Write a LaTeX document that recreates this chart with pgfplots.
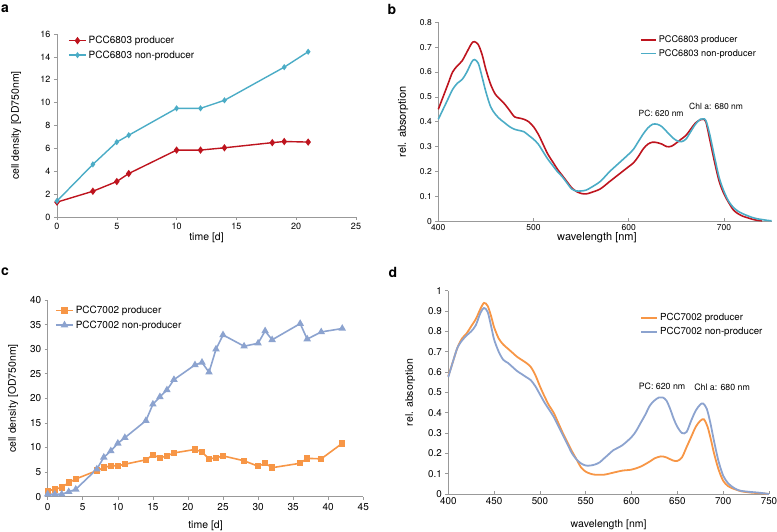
\documentclass[border=0pt]{standalone}
\usepackage{fontspec}
\setmainfont{TeX Gyre Heros}
\usepackage{pgfplots}
\pgfplotsset{compat=1.18}
\definecolor{cred}{RGB}{190,20,30}
\definecolor{ccyan}{RGB}{75,172,198}
\definecolor{corange}{RGB}{247,150,70}
\definecolor{cblue}{RGB}{140,163,207}
\pgfplotsset{myaxis/.style={
  scale only axis, axis lines=left,
  axis line style={-, draw=black!40, line width=0.8pt},
  tick style={draw=black!40, line width=0.6pt}, major tick length=3pt,
  tick align=outside,
  /pgf/number format/assume math mode=true,
  yticklabel style={/pgf/number format/fixed},
  legend cell align=left,
  legend style={draw=none, fill=none, inner sep=0pt, anchor=north west, row sep=1.5pt},
  clip=false,
}}
\begin{document}
\begin{tikzpicture}
\path[use as bounding box] (0pt,0pt) rectangle (777pt,532pt);
\node[font=\bfseries\fontsize{14}{14}\selectfont] at (5pt,523pt) {a};
\node[font=\bfseries\fontsize{14}{14}\selectfont] at (392pt,523pt) {b};
\node[font=\bfseries\fontsize{14}{14}\selectfont] at (5pt,260pt) {c};
\node[font=\bfseries\fontsize{14}{14}\selectfont] at (393pt,260pt) {d};

% ---------- panel a
\begin{axis}[myaxis, at={(57pt,315pt)}, anchor=south west, width=299pt, height=183pt,
  xmin=0, xmax=25, ymin=0, ymax=16, xtick distance=5, ytick distance=2,
  tick label style={font=\fontsize{9}{10}\selectfont},
  label style={font=\fontsize{10.5}{12}\selectfont},
  xlabel={time [d]}, ylabel={cell density [OD750nm]},
  xlabel style={at={(axis description cs:0.5,-0.115)}, anchor=center},
  ylabel style={at={(axis description cs:-0.137,0.5)}, anchor=center},
  legend style={at={(axis description cs:0.037,1.0)}, font=\fontsize{10}{11}\selectfont}]
\addplot[cred, line width=1.4pt, mark=diamond*, mark size=2.6pt] coordinates {
(0,1.3) (3,2.25) (5,3.1) (6,3.8) (10,5.85) (12,5.85) (14,6.05) (18,6.5) (19,6.6) (21,6.55)};
\addlegendentry{PCC6803 producer}
\addplot[ccyan, line width=1.4pt, mark=diamond*, mark size=2pt] coordinates {
(0,1.4) (3,4.6) (5,6.55) (6,7.15) (10,9.5) (12,9.5) (14,10.2) (19,13.1) (21,14.45)};
\addlegendentry{PCC6803 non-producer}
\end{axis}

% ---------- panel b
\begin{axis}[myaxis, at={(438.3pt,310.7pt)}, anchor=south west, width=333.3pt, height=199pt,
  xmin=400, xmax=750, ymin=0, ymax=0.8, xtick={400,500,600,700}, ytick distance=0.1,
  xtick align=inside,
  tick label style={font=\fontsize{8.5}{10}\selectfont},
  label style={font=\fontsize{11}{12}\selectfont},
  xlabel={wavelength [nm]}, ylabel={rel. absorption},
  xlabel style={at={(axis description cs:0.476,-0.084)}, anchor=center},
  ylabel style={at={(axis description cs:-0.106,0.5)}, anchor=center},
  legend image code/.code={\draw[#1, sharp plot] (0pt,0pt) -- (15pt,0pt);},
  legend style={at={(axis description cs:0.605,0.944)}, font=\fontsize{9.2}{10}\selectfont}]
\addplot[cred, line width=1.6pt, smooth] coordinates {
(400,0.45) (405,0.50) (410,0.55) (415,0.60) (420,0.625) (425,0.645) (430,0.68) (435,0.715)
(438,0.722) (442,0.71) (446,0.67) (450,0.61) (455,0.55) (460,0.51) (465,0.49) (470,0.47)
(475,0.445) (480,0.42) (485,0.415) (490,0.41) (495,0.40) (500,0.38) (505,0.35) (510,0.31)
(515,0.27) (520,0.24) (525,0.21) (530,0.185) (535,0.16) (540,0.135) (545,0.12) (550,0.112)
(555,0.11) (560,0.115) (570,0.13) (580,0.16) (590,0.19) (600,0.22) (605,0.235) (610,0.26)
(615,0.29) (620,0.31) (625,0.318) (630,0.316) (635,0.31) (640,0.30) (645,0.302) (650,0.315)
(655,0.33) (660,0.345) (665,0.37) (670,0.395) (675,0.408) (678,0.41) (681,0.40) (685,0.33)
(690,0.24) (695,0.16) (700,0.11) (705,0.075) (710,0.045) (715,0.03) (720,0.02) (725,0.014)
(730,0.008) (735,0.004) (740,0.002)};
\addlegendentry{PCC6803 producer}
\addplot[ccyan, line width=1.6pt, smooth] coordinates {
(400,0.41) (405,0.45) (410,0.49) (415,0.53) (420,0.555) (425,0.57) (430,0.60) (435,0.64)
(438,0.65) (442,0.635) (446,0.58) (450,0.52) (455,0.46) (460,0.43) (465,0.41) (470,0.395)
(475,0.38) (480,0.37) (485,0.365) (490,0.36) (495,0.345) (500,0.33) (505,0.31) (510,0.28)
(515,0.25) (520,0.225) (525,0.20) (530,0.18) (535,0.155) (540,0.13) (545,0.122) (550,0.122)
(555,0.125) (560,0.135) (570,0.16) (580,0.20) (590,0.235) (600,0.27) (605,0.29) (610,0.32)
(615,0.35) (620,0.375) (625,0.39) (630,0.39) (635,0.38) (640,0.36) (645,0.34) (650,0.325)
(655,0.32) (660,0.33) (665,0.36) (670,0.39) (675,0.41) (678,0.412) (681,0.405) (685,0.35)
(690,0.26) (695,0.175) (700,0.12) (705,0.08) (710,0.055) (715,0.04) (720,0.03) (725,0.022)
(730,0.015) (735,0.01) (740,0.007) (745,0.004) (750,0.002)};
\addlegendentry{PCC6803 non-producer}
\node[font=\fontsize{8.5}{10}\selectfont] at (axis cs:634,0.435) {PC: 620 nm};
\node[font=\fontsize{8.5}{10}\selectfont] at (axis cs:691.7,0.46) {Chl a: 680 nm};
\end{axis}

% ---------- panel c
\begin{axis}[myaxis, at={(47.7pt,35.3pt)}, anchor=south west, width=315.6pt, height=196.7pt,
  xmin=0, xmax=45, ymin=0, ymax=40, xtick distance=5, ytick distance=5,
  tick label style={font=\fontsize{10}{12}\selectfont},
  label style={font=\fontsize{10.5}{12}\selectfont},
  xlabel={time [d]}, ylabel={cell density [OD750nm]},
  xlabel style={at={(axis description cs:0.5,-0.147)}, anchor=center},
  ylabel style={at={(axis description cs:-0.11,0.5)}, anchor=center},
  legend style={at={(axis description cs:0.023,0.98)}, font=\fontsize{10}{11}\selectfont}]
\addplot[corange, line width=1.6pt, mark=square*, mark size=2.4pt] coordinates {
(0,1.2) (1,1.5) (2,1.9) (3,2.85) (4,3.6) (7,5.3) (8,5.9) (9,6.3) (10,6.3) (11,6.6)
(14,7.5) (15,8.5) (16,7.9) (17,8.3) (18,8.9) (21,9.6) (22,9.1) (23,7.7) (24,7.9) (25,8.3)
(28,7.3) (30,6.2) (31,6.8) (32,5.9) (36,6.8) (37,7.8) (39,7.7) (42,10.85)};
\addlegendentry{PCC7002 producer}
\addplot[cblue, line width=1.6pt, mark=triangle*, mark size=2.8pt] coordinates {
(0,0.5) (1,0.5) (2,0.5) (3,1.0) (4,1.5) (7,5.6) (8,8.0) (9,9.3) (10,10.85) (11,12.0)
(14,15.45) (15,18.8) (16,20.3) (17,21.7) (18,23.8) (21,26.8) (22,27.3) (23,25.3) (24,30.0)
(25,32.9) (28,30.6) (30,31.2) (31,33.7) (32,31.9) (36,35.2) (37,32.05) (39,33.5) (42,34.2)};
\addlegendentry{PCC7002 non-producer}
\end{axis}

% ---------- panel d
\begin{axis}[myaxis, at={(448.3pt,38pt)}, anchor=south west, width=320.7pt, height=203.3pt,
  xmin=400, xmax=750, ymin=0, ymax=1, xtick distance=50, ytick distance=0.1,
  xtick align=inside,
  tick label style={font=\fontsize{9.8}{12}\selectfont},
  label style={font=\fontsize{10.5}{12}\selectfont},
  xlabel={wavelength [nm]}, ylabel={rel. absorption},
  xlabel style={at={(axis description cs:0.5,-0.152)}, anchor=center},
  ylabel style={at={(axis description cs:-0.119,0.5)}, anchor=center},
  legend image code/.code={\draw[#1, sharp plot] (0pt,0pt) -- (16pt,0pt);},
  legend style={at={(axis description cs:0.598,0.90)}, font=\fontsize{9.7}{11}\selectfont}]
\addplot[corange, line width=1.8pt, smooth] coordinates {
(400,0.58) (405,0.65) (410,0.72) (415,0.765) (420,0.79) (425,0.825) (430,0.86) (435,0.91)
(439,0.94) (443,0.925) (447,0.87) (450,0.82) (455,0.765) (460,0.735) (465,0.715) (470,0.695)
(475,0.675) (480,0.66) (485,0.645) (490,0.625) (495,0.585) (500,0.53) (505,0.48) (510,0.435)
(515,0.40) (520,0.35) (525,0.30) (530,0.255) (535,0.21) (540,0.17) (545,0.13) (550,0.11)
(555,0.10) (560,0.095) (570,0.095) (580,0.105) (590,0.115) (600,0.12) (610,0.135) (620,0.16)
(625,0.175) (632,0.185) (638,0.18) (645,0.165) (650,0.163) (655,0.18) (660,0.23) (665,0.28)
(670,0.33) (675,0.36) (679,0.367) (683,0.33) (687,0.26) (690,0.2) (695,0.12) (700,0.065)
(705,0.04) (710,0.028) (715,0.02) (720,0.013) (730,0.007) (740,0.004) (750,0.0)};
\addlegendentry{PCC7002 producer}
\addplot[cblue, line width=1.8pt, smooth] coordinates {
(400,0.575) (405,0.65) (410,0.72) (415,0.755) (420,0.78) (425,0.80) (430,0.83) (435,0.89)
(439,0.915) (443,0.895) (447,0.82) (450,0.76) (455,0.70) (460,0.66) (465,0.645) (470,0.625)
(475,0.605) (480,0.59) (485,0.575) (490,0.56) (495,0.53) (500,0.49) (505,0.45) (510,0.415)
(515,0.38) (520,0.335) (525,0.29) (530,0.245) (535,0.20) (540,0.17) (545,0.15) (550,0.14)
(555,0.14) (560,0.145) (565,0.155) (570,0.175) (575,0.195) (580,0.215) (590,0.24) (600,0.28)
(605,0.31) (610,0.35) (615,0.39) (620,0.435) (625,0.46) (630,0.475) (634,0.475) (638,0.46)
(642,0.42) (646,0.37) (650,0.33) (655,0.30) (660,0.305) (665,0.36) (670,0.41) (675,0.44)
(678,0.445) (682,0.42) (686,0.35) (690,0.26) (695,0.16) (700,0.09) (705,0.055) (710,0.035)
(715,0.022) (720,0.015) (730,0.01) (740,0.006) (750,0.0)};
\addlegendentry{PCC7002 non-producer}
\node[font=\fontsize{8.8}{10}\selectfont] at (axis cs:633.3,0.531) {PC: 620 nm};
\node[font=\fontsize{8.8}{10}\selectfont] at (axis cs:698.8,0.526) {Chl a: 680 nm};
\end{axis}
\end{tikzpicture}
\end{document}
